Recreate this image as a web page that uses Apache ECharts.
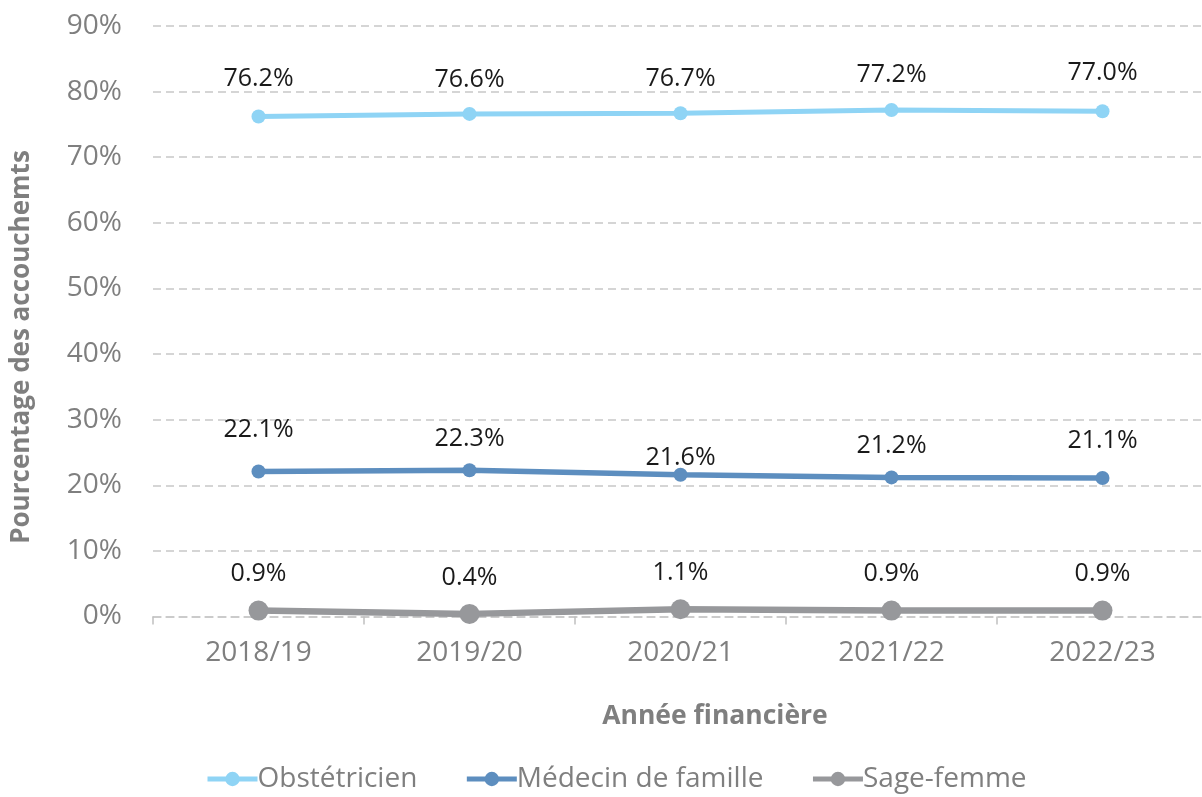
<!DOCTYPE html>
<html>
<head>
<meta charset="utf-8">
<script src="https://cdn.jsdelivr.net/npm/echarts@6/dist/echarts.min.js"></script>
<style>
html,body{margin:0;padding:0;background:#fff;overflow:hidden;}
#chart{width:1210px;height:797px;}
</style>
</head>
<body>
<div id="chart"></div>
<script>
const categories = ['2018/19', '2019/20', '2020/21', '2021/22', '2022/23'];
const obstetricien = [76.2, 76.6, 76.7, 77.2, 77.0];
const medecinFamille = [22.1, 22.3, 21.6, 21.2, 21.1];
const sageFemme = [0.9, 0.4, 1.1, 0.9, 0.9];
const seriesNames = ['Obstétricien', 'Médecin de famille', 'Sage-femme'];
const yTicks = [0, 10, 20, 30, 40, 50, 60, 70, 80, 90];

// label gaps (styling only)
const gapObst = [18, 15, 15, 16, 19];
const gapMed = [22, 12, -3, 12, 18];
const gapSage = [14, 14, 14, 14, 14];

const FONT = '"Open Sans", sans-serif';
const GREY = '#7f7f7f';

function mkData(vals, gaps) {
  return vals.map((v, i) => ({
    value: v,
    label: gaps[i] >= 0 ? { distance: gaps[i] } : { distance: 0, offset: [0, -gaps[i]] }
  }));
}

function mkSeries(name, vals, gaps, color, width, size) {
  return {
    name: name,
    type: 'line',
    data: mkData(vals, gaps),
    symbol: 'circle',
    symbolSize: size,
    itemStyle: { color: color },
    lineStyle: { color: color, width: width },
    label: {
      show: true,
      position: 'top',
      formatter: p => p.value.toFixed(1) + '%',
      fontFamily: FONT,
      fontSize: 25,
      color: '#1a1a1a'
    },
    emphasis: { disabled: true },
    animation: false
  };
}

const chart = echarts.init(document.getElementById('chart'));
chart.setOption({
  backgroundColor: '#fff',
  animation: false,
  grid: { left: 153, right: 2, top: 26, bottom: 180.5, containLabel: false },
  legend: {
    data: seriesNames,
    left: 205,
    top: 765,
    padding: 0,
    itemWidth: 50,
    itemHeight: 18,
    itemGap: 47,
    lineStyle: { width: 5 },
    textStyle: { fontFamily: FONT, fontSize: 28, color: GREY, padding: [0, 0, 0, -5] }
  },
  xAxis: {
    type: 'category',
    data: categories,
    boundaryGap: true,
    axisLine: { show: true, lineStyle: { color: '#c8c8c8', width: 1.5, type: [8, 5] } },
    axisTick: { show: true, length: 8, lineStyle: { color: '#c0c0c0', width: 1.5 } },
    axisLabel: { fontFamily: FONT, fontSize: 28, color: GREY, margin: 23 }
  },
  yAxis: {
    type: 'value',
    min: yTicks[0],
    max: yTicks[yTicks.length - 1],
    interval: 10,
    axisLine: { show: false },
    axisTick: { show: false },
    axisLabel: { fontFamily: FONT, fontSize: 28, color: GREY, margin: 31, formatter: v => v + '%' },
    splitLine: { show: true, lineStyle: { color: '#c8c8c8', width: 1.5, type: [8, 5] } }
  },
  graphic: [
    {
      type: 'text',
      x: 22,
      y: 347,
      rotation: Math.PI / 2,
      style: { text: 'Pourcentage des accouchemts', fontFamily: FONT, fontSize: 26, fontWeight: 'bold', fill: GREY, align: 'center', verticalAlign: 'middle' }
    },
    {
      type: 'text',
      x: 715,
      y: 716,
      style: { text: 'Année financière', fontFamily: FONT, fontSize: 26.5, fontWeight: 'bold', fill: GREY, align: 'center', verticalAlign: 'middle' }
    }
  ],
  series: [
    mkSeries(seriesNames[0], obstetricien, gapObst, '#8fd4f5', 5, 14),
    mkSeries(seriesNames[1], medecinFamille, gapMed, '#5d8ebf', 5.5, 14),
    mkSeries(seriesNames[2], sageFemme, gapSage, '#97989b', 6.5, 20)
  ]
});
</script>
</body>
</html>
